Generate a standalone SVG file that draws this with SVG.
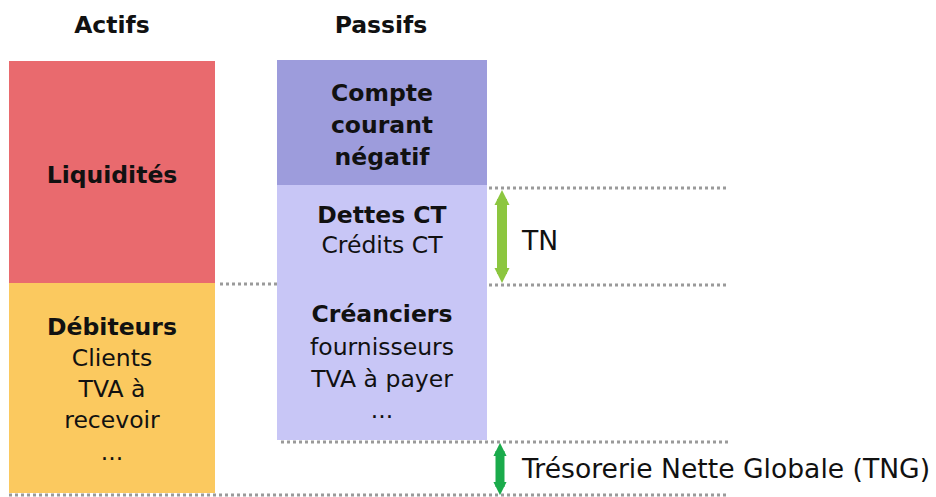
<svg xmlns="http://www.w3.org/2000/svg" width="936" height="497" viewBox="0 0 936 497">
<style>
text{font-family:"DejaVu Sans","Liberation Sans",sans-serif;font-size:23.5px;fill:#111}
.b{font-weight:bold}
.c{text-anchor:middle}
.l{font-size:26.6px}
.dot{stroke:#9a9a9a;stroke-width:3;stroke-dasharray:3 3;fill:none}
</style>
<defs>
<marker id="ahL" viewBox="0 0 10 10" refX="4" refY="5" markerWidth="1.5" markerHeight="2.8" orient="auto-start-reverse" markerUnits="strokeWidth"><path d="M0,0L10,5L0,10z" fill="#8cc63f"/></marker>
<marker id="ahD" viewBox="0 0 10 10" refX="4" refY="5" markerWidth="1.5" markerHeight="2.5" orient="auto-start-reverse" markerUnits="strokeWidth"><path d="M0,0L10,5L0,10z" fill="#1aab4b"/></marker>
</defs>
<rect width="936" height="497" fill="#fff"/>
<text class="b c" x="112" y="33">Actifs</text>
<text class="b c" x="381" y="33">Passifs</text>
<g id="liquidites"><rect x="9" y="61" width="206" height="222" fill="#e96a6e"/><text class="b c" x="112" y="183">Liquidités</text></g>
<g id="debiteurs"><rect x="9" y="283" width="206" height="210" fill="#fbc95f"/>
<text class="b c" x="112" y="335">Débiteurs</text><text class="c" x="112" y="366">Clients</text><text class="c" x="112" y="397">TVA à</text><text class="c" x="112" y="428">recevoir</text><text class="c" x="112" y="460">...</text></g>
<g id="compte"><rect x="277" y="60" width="210" height="125" fill="#9d9cdc"/>
<text class="b c" x="382" y="101">Compte</text><text class="b c" x="382" y="133">courant</text><text class="b c" x="382" y="165">négatif</text></g>
<g id="dettes"><rect x="277" y="185" width="210" height="255" fill="#c8c6f6"/>
<text class="b c" x="382" y="223">Dettes CT</text><text class="c" x="382" y="253">Crédits CT</text>
<text class="b c" x="382" y="322">Créanciers</text><text class="c" x="382" y="355">fournisseurs</text><text class="c" x="382" y="387">TVA à payer</text><text class="c" x="382" y="418">...</text></g>
<g id="connectors">
<path class="dot" d="M489 188H728M489 285H728M220 284H277M281 442H728M9 495H728"/>
<line x1="502" y1="199" x2="502" y2="274" stroke="#8cc63f" stroke-width="10" marker-start="url(#ahL)" marker-end="url(#ahL)"/>
<line x1="500" y1="451" x2="500" y2="487" stroke="#1aab4b" stroke-width="9" marker-start="url(#ahD)" marker-end="url(#ahD)"/>
</g>
<text class="l" x="522" y="250">TN</text>
<text class="l" x="522" y="478">Trésorerie Nette Globale (TNG)</text>
</svg>
